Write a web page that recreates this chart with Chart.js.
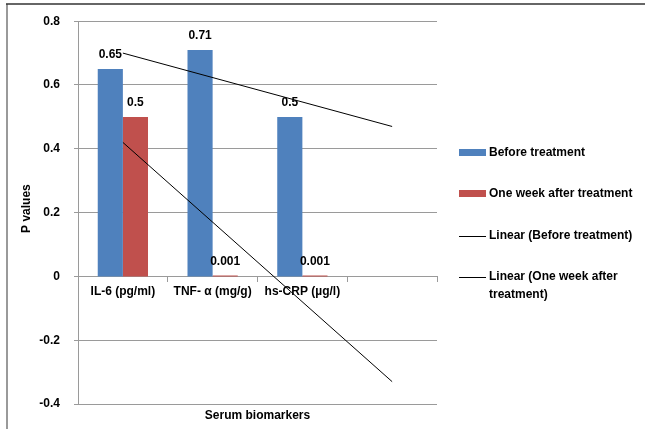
<!DOCTYPE html>
<html>
<head>
<meta charset="utf-8">
<script src="https://cdn.jsdelivr.net/npm/chart.js@4.4.1/dist/chart.umd.min.js"></script>
<style>
	html, body { margin: 0; padding: 0; background: #fff; }
	#wrap { width: 645px; height: 429px; }
	canvas { display: block; }
</style>
</head>
<body>
<div id="wrap"><canvas id="chart" width="645" height="429"></canvas></div>
<script>
// Data
const categories = [ 'IL-6 (pg/ml)', 'TNF- α (mg/g)', 'hs-CRP (µg/l)', '' ];
const beforeValues = [ 0.65, 0.71, 0.5, null ];
const afterValues = [ 0.5, 0.001, 0.001, null ];
// trendline ends
const beforeTrend = [ 0.70, null, null, 0.47 ];
const afterTrend = [ 0.42, null, null, -0.33 ];
const yMin = -0.4;
const yMax = 0.8;
const yStep = 0.2;

const FAMILY = '"Liberation Sans", Arial, sans-serif';
const BOLD = { family: FAMILY, size: 12, weight: 'bold' };
const GRID = '#9a9a9a';

// value labels over the bars
const barLabels = {
	id: 'barLabels',
	afterDatasetsDraw( chart ) {
		const ctx = chart.ctx;
		ctx.save();
		ctx.font = 'bold 12px ' + FAMILY;
		ctx.fillStyle = '#000';
		ctx.textAlign = 'center';
		ctx.textBaseline = 'middle';
		chart.data.datasets.forEach( ( ds, i ) => {
			if ( ds.type !== 'bar' ) return;
			chart.getDatasetMeta( i ).data.forEach( ( bar, j ) => {
				const v = ds.data[ j ];
				if ( v == null ) return;
				ctx.fillText( String( v ), bar.x, bar.y - 14 );
			} );
		} );
		ctx.restore();
	}
};

// frame, axis titles and the legend on the right
const decorations = {
	id: 'decorations',
	afterDraw( chart ) {
		const ctx = chart.ctx;
		const area = chart.chartArea;
		ctx.save();

		ctx.strokeStyle = '#9a9a9a';
		ctx.lineWidth = 2;
		ctx.beginPath();
		ctx.moveTo( 7, 4 );
		ctx.lineTo( 7, 429 );
		ctx.stroke();
		ctx.strokeStyle = '#333';
		ctx.lineWidth = 1.5;
		ctx.beginPath();
		ctx.moveTo( 6, 4 );
		ctx.lineTo( 645, 4 );
		ctx.stroke();

		ctx.font = 'bold 12px ' + FAMILY;
		ctx.fillStyle = '#000';
		ctx.textAlign = 'center';
		ctx.textBaseline = 'middle';
		ctx.fillText( 'Serum biomarkers', ( area.left + area.right ) / 2, 416 );

		ctx.save();
		ctx.translate( 27, ( area.top + area.bottom ) / 2 - 4 );
		ctx.rotate( -Math.PI / 2 );
		ctx.fillText( 'P values', 0, 0 );
		ctx.restore();

		// legend: bars first, then the trendlines
		const items = chart.data.datasets.filter( ds => ds.type === 'bar' )
			.concat( chart.data.datasets.filter( ds => ds.type !== 'bar' ) );
		const sx = 459, sw = 27, tx = 489, maxW = 152;
		let y = 153;
		ctx.textAlign = 'left';
		items.forEach( ds => {
			const ry = Math.round( y );
			if ( ds.type === 'bar' ) {
				ctx.fillStyle = ds.backgroundColor;
				ctx.fillRect( sx, ry - 4, sw, 7 );
			} else {
				ctx.strokeStyle = ds.borderColor;
				ctx.lineWidth = 1;
				ctx.beginPath();
				ctx.moveTo( sx, ry + 0.5 );
				ctx.lineTo( sx + sw, ry + 0.5 );
				ctx.stroke();
			}
			ctx.fillStyle = '#000';
			const words = ds.label.split( ' ' );
			const lines = [];
			let cur = '';
			words.forEach( w => {
				const test = cur ? cur + ' ' + w : w;
				if ( cur && ctx.measureText( test ).width > maxW ) {
					lines.push( cur );
					cur = w;
				} else {
					cur = test;
				}
			} );
			lines.push( cur );
			lines.forEach( ( l, k ) => ctx.fillText( l, tx, ry + k * 18 ) );
			y += 41.3;
		} );

		ctx.restore();
	}
};

new Chart( document.getElementById( 'chart' ), {
	data: {
		labels: categories,
		datasets: [
			{
				type: 'line',
				label: 'Linear (Before treatment)',
				data: beforeTrend,
				borderColor: '#000',
				borderWidth: 1,
				pointRadius: 0,
				spanGaps: true,
				order: 0
			},
			{
				type: 'line',
				label: 'Linear (One week after treatment)',
				data: afterTrend,
				borderColor: '#000',
				borderWidth: 1,
				pointRadius: 0,
				spanGaps: true,
				order: 0
			},
			{
				type: 'bar',
				label: 'Before treatment',
				data: beforeValues,
				backgroundColor: '#4f81bd',
				categoryPercentage: 0.56,
				barPercentage: 1,
				order: 1
			},
			{
				type: 'bar',
				label: 'One week after treatment',
				data: afterValues,
				backgroundColor: '#c0504d',
				categoryPercentage: 0.56,
				barPercentage: 1,
				minBarLength: 1,
				order: 1
			}
		]
	},
	options: {
		responsive: false,
		devicePixelRatio: 1,
		animation: false,
		layout: { padding: { left: 0, right: 208, top: 21, bottom: 25 } },
		plugins: {
			legend: { display: false },
			tooltip: { enabled: false }
		},
		scales: {
			x: {
				type: 'category',
				position: { y: 0 },
				offset: true,
				grid: { offset: true, drawOnChartArea: false, tickLength: 5, color: GRID },
				border: { color: GRID },
				ticks: { color: '#000', font: BOLD, padding: 3, autoSkip: false, maxRotation: 0 }
			},
			y: {
				min: yMin,
				max: yMax,
				afterFit( scale ) { scale.width = 78; },
				grid: { color: GRID, tickLength: 4 },
				border: { color: GRID },
				ticks: {
					stepSize: yStep,
					color: '#000',
					font: BOLD,
					padding: 14,
					callback: v => String( Math.round( v * 10 ) / 10 )
				}
			}
		}
	},
	plugins: [ barLabels, decorations ]
} );
</script>
</body>
</html>
